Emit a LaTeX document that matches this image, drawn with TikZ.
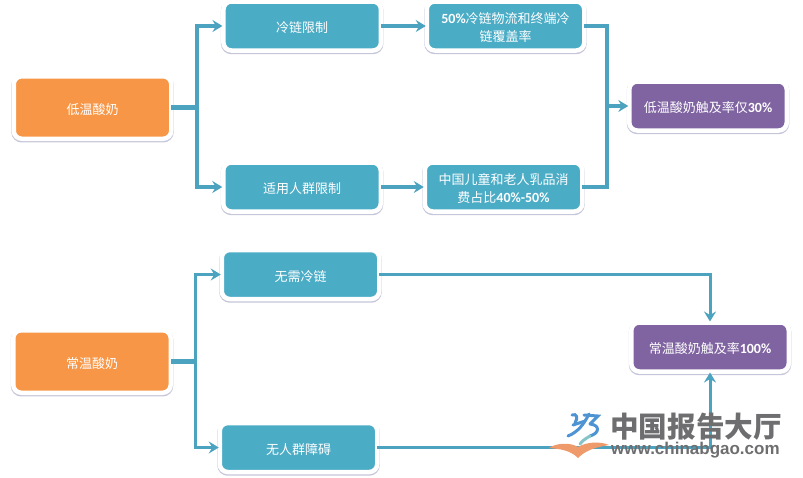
\documentclass[tikz,border=0pt]{standalone}
\usepackage{fontspec}
\setmainfont{Carlito}
\newfontfamily\cjk{Noto Sans CJK SC}
\newfontfamily\wmfont{Liberation Sans}
\newcommand{\lat}[1]{{\fontsize{14}{14}\selectfont\bfseries #1}}
\newcommand{\tl}[1]{\raisebox{-1.8pt}[.88em][.12em]{#1}}
\usetikzlibrary{arrows.meta}
\definecolor{orangebox}{HTML}{F79646}
\definecolor{tealbox}{HTML}{4BACC6}
\definecolor{purplebox}{HTML}{8064A2}
\definecolor{shadowc}{HTML}{C6C6DA}
\definecolor{wmgray}{HTML}{6E6E70}
\definecolor{linkc}{HTML}{4BA3BF}
\definecolor{bookc}{HTML}{EE9A6A}
\definecolor{logoc}{HTML}{4E94D2}
\definecolor{logod}{HTML}{86C4C8}
\tikzset{
 basebox/.style={draw=white,line width=4.5pt,rounded corners=8pt,inner sep=0pt,outer sep=0pt,
   minimum width=157.5pt,align=center,text=white,font=\fontsize{13}{18}\selectfont,
   preaction={draw=shadowc,line width=5pt,transform canvas={yshift=-1.2pt}}},
 srcbox/.style={basebox,fill=orangebox,minimum height=62.5pt},
 midbox/.style={basebox,fill=tealbox,minimum height=49pt},
 endbox/.style={basebox,fill=purplebox,minimum height=49pt},
 link/.style={draw=linkc,line width=3.5pt,line join=miter},
 thinlink/.style={draw=linkc,line width=3pt,line join=miter},
 tip/.style={-{Stealth[length=10pt,width=12pt,inset=3.5pt]},shorten >=1pt},
 logostroke/.style={draw=logoc,line width=3pt,line cap=round},
}
\begin{document}
\begin{tikzpicture}[x=1pt,y=-1pt]
\useasboundingbox (0,0) rectangle (803,477);
\node[srcbox] (a) at (92.5,107.5) {\tl{\cjk 低温酸奶}};
\node[midbox] (b) at (302.2,26) {\tl{\cjk 冷链限制}};
\node[midbox] (c) at (505.5,26) {\tl{\lat{50\%}{\cjk 冷链物流和终端冷}}\\\tl{\cjk 链覆盖率}};
\node[midbox] (d) at (302,187) {\tl{\cjk 适用人群限制}};
\node[midbox] (e) at (503.5,187) {\tl{\cjk 中国儿童和老人乳品消}\\\tl{{\cjk 费占比}\lat{40\%-50\%}}};
\node[endbox] (f) at (708,106) {\tl{{\cjk 低温酸奶触及率仅}\lat{30\%}}};
\node[srcbox] (g) at (92,361.5) {\tl{\cjk 常温酸奶}};
\node[midbox] (h) at (300.5,274.5) {\tl{\cjk 无需冷链}};
\node[midbox] (i) at (298.5,447.5) {\tl{\cjk 无人群障碍}};
\node[endbox] (j) at (710,347) {\tl{{\cjk 常温酸奶触及率}\lat{100\%}}};
\coordinate (bus1) at (197,107.5);
\coordinate (bus2) at (195,361.5);
\coordinate (bus3) at (607,106);
\draw[link,line width=4.5pt] (a.east) -- (bus1);
\draw[link,tip] (bus1) |- (b.west);
\draw[link,tip] (bus1) |- (d.west);
\draw[link,tip] (b.east) -- (c.west);
\draw[link,tip] (d.east) -- (e.west);
\draw[link] (c.east) -| (bus3);
\draw[link] (e.east) -| (bus3);
\draw[link,line width=4.5pt,tip] (bus3) -- (f.west);
\draw[link,line width=4.5pt] (g.east) -- (bus2);
\draw[thinlink,tip] (bus2) |- (h.west);
\draw[thinlink,tip] (bus2) |- (i.west);
\draw[thinlink,tip] (h.east) -| (j.north);
\draw[thinlink,tip] (i.east) -| (j.south);
% watermark
\node[text=wmgray,font=\fontsize{28.6}{29}\selectfont\cjk\bfseries,anchor=west,inner sep=0pt] (w1) at (610,427) {中国报告大厅};
\node[text=wmgray,font=\fontsize{17}{17}\selectfont\wmfont\bfseries,anchor=west,inner sep=0pt] (w2) at (611,450) {www.chinabgao.com};
\fill[bookc] (549,448) .. controls (556,443) and (570,442) .. (578,447) .. controls (586,442) and (600,441) .. (609,445) .. controls (598,447) and (587,449) .. (578,458) .. controls (570,450) and (560,449) .. (549,448) -- cycle;
\draw[logostroke] (572,415) .. controls (577,413) and (578,418) .. (575,423);
\draw[logostroke] (589,414) .. controls (584,424) and (578,432) .. (568,436);
\draw[logostroke] (573,425) -- (585,421);
\draw[logostroke] (584,415) -- (598,416) -- (590,424);
\draw[logostroke] (590,424) .. controls (600,425) and (600,433) .. (590,436);
\draw[draw=logod,line width=3pt,line cap=round] (590,436) .. controls (585,439) and (582,441) .. (580,444);
\end{tikzpicture}
\end{document}
